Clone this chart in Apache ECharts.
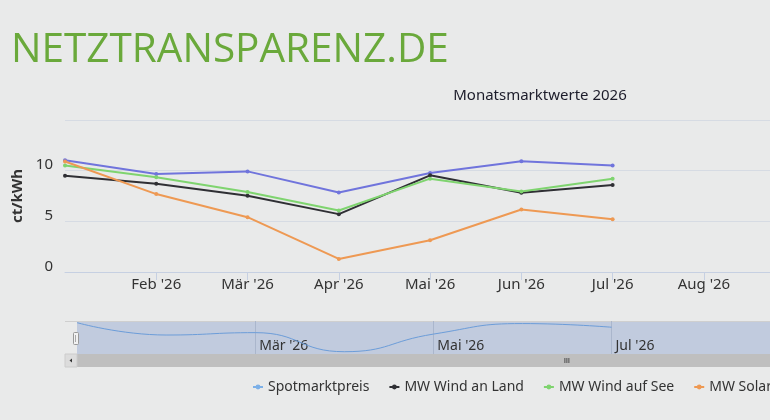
<!DOCTYPE html>
<html>
<head>
<meta charset="utf-8">
<title>Monatsmarktwerte 2026</title>
<script src="https://cdn.jsdelivr.net/npm/echarts@6/dist/echarts.min.js"></script>
<style>
	html, body { margin: 0; padding: 0; overflow: hidden; background: #e9eaea; }
	#chart { width: 1080px; height: 420px; }
</style>
</head>
<body>
<div id="chart"></div>
<script>
var months = ["Jan '26", "Feb '26", "Mär '26", "Apr '26", "Mai '26", "Jun '26", "Jul '26", "Aug '26", "Sep '26", "Okt '26", "Nov '26", "Dez '26"];
var seriesNames = ['Spotmarktpreis', 'MW Wind an Land', 'MW Wind auf See', 'MW Solar'];
var spotmarktpreis = [11.02, 9.67, 9.93, 7.85, 9.77, 10.92, 10.52];
var windLand = [9.50, 8.71, 7.52, 5.71, 9.54, 7.82, 8.58];
var windSee = [10.52, 9.34, 7.89, 6.07, 9.21, 7.95, 9.21];
var solar = [10.90, 7.69, 5.41, 1.29, 3.14, 6.17, 5.21];
var yTicks = [0, 5, 10, 15];

var font = '"Noto Sans", sans-serif';
var colors = ['#7074dc', '#2f2f34', '#7fd46f', '#ee9953'];

var chart = echarts.init(document.getElementById('chart'));

function lineSeries(i, data) {
	return {
		name: seriesNames[i],
		type: 'line',
		data: data,
		xAxisIndex: 0,
		yAxisIndex: 0,
		symbol: 'circle',
		symbolSize: 4,
		lineStyle: { width: 2, color: colors[i] },
		itemStyle: { color: colors[i] }
	};
}

var option = {
	animation: false,
	backgroundColor: '#e9eaea',
	title: [{
		text: 'NETZTRANSPARENZ.DE',
		left: 6,
		top: 25,
		textStyle: { color: '#6aa93b', fontSize: 40.5, fontWeight: 'normal', fontFamily: '"Open Sans", sans-serif' }
	}, {
		text: 'Monatsmarktwerte 2026',
		left: 'center',
		top: 83,
		textStyle: { color: '#1c1c2a', fontSize: 15, fontWeight: 'normal', fontFamily: font }
	}],
	legend: {
		left: 247,
		top: 375,
		itemWidth: 10,
		itemHeight: 6,
		itemGap: 19,
		textStyle: { color: '#333', fontSize: 14, fontFamily: font },
		data: [
			{ name: seriesNames[0], itemStyle: { color: '#7cb0e8' }, lineStyle: { color: '#7cb0e8' } },
			{ name: seriesNames[1] },
			{ name: seriesNames[2] },
			{ name: seriesNames[3] }
		]
	},
	grid: [
		{ left: 65, right: 11, top: 120, height: 152, outerBoundsMode: 'none' },
		// navigator
		{ left: 77, right: 23, top: 321, height: 33, outerBoundsMode: 'none', show: true, backgroundColor: 'rgba(102,133,194,0.3)', borderWidth: 0 }
	],
	xAxis: [{
		type: 'category',
		gridIndex: 0,
		data: months,
		boundaryGap: false,
		axisLine: { lineStyle: { color: '#c6d0e2' } },
		axisTick: { length: 8, interval: function (i) { return i > 0; }, lineStyle: { color: '#c6d0e2' } },
		axisLabel: {
			interval: function (i) { return i > 0; },
			margin: 5,
			color: '#333',
			fontSize: 15,
			fontFamily: font
		},
		splitLine: { show: false }
	}, {
		type: 'category',
		gridIndex: 1,
		data: months,
		boundaryGap: false,
		axisLine: { show: false },
		axisTick: { show: false },
		axisLabel: {
			inside: true,
			interval: function (i) { return i > 0 && i % 2 === 0; },
			align: 'left',
			verticalAlign: 'bottom',
			padding: [0, 0, 0, 4],
			margin: 1,
			color: '#333',
			fontSize: 14,
			fontFamily: font
		},
		splitLine: {
			show: true,
			interval: function (i) { return i > 0 && i % 2 === 0; },
			lineStyle: { color: '#aab6cc', width: 1 }
		}
	}],
	yAxis: [{
		type: 'value',
		gridIndex: 0,
		min: yTicks[0],
		max: yTicks[yTicks.length - 1],
		interval: 5,
		name: 'ct/kWh',
		nameLocation: 'middle',
		nameGap: 40,
		nameTextStyle: { color: '#333', fontSize: 15, fontWeight: 'bold', fontFamily: font },
		axisLine: { show: false },
		axisTick: { show: false },
		axisLabel: {
			showMaxLabel: false,
			verticalAlign: 'bottom',
			margin: 12,
			padding: [0, 0, -2, 0],
			color: '#333',
			fontSize: 15,
			fontFamily: font
		},
		splitLine: { lineStyle: { color: '#d6dbe3' } }
	}, {
		type: 'value',
		gridIndex: 1,
		min: 7.6,
		max: 11.2,
		show: false,
		splitLine: { show: false }
	}],
	series: [
		lineSeries(0, spotmarktpreis),
		lineSeries(1, windLand),
		lineSeries(2, windSee),
		lineSeries(3, solar),
		{
			name: 'navigator',
			type: 'line',
			xAxisIndex: 1,
			yAxisIndex: 1,
			data: spotmarktpreis,
			smooth: 0.5,
			symbol: 'none',
			silent: true,
			lineStyle: { width: 1, color: '#6c9dd9' }
		}
	],
	// scrollbar + handle decoration of the navigator
	graphic: [
		{ type: 'line', shape: { x1: 65, y1: 321.5, x2: 1069, y2: 321.5 }, style: { stroke: '#cfcfcf', lineWidth: 1 } },
		{ type: 'rect', shape: { x: 65, y: 354, width: 1004, height: 13 }, style: { fill: '#bfbfbf' } },
		{ type: 'rect', shape: { x: 65, y: 354, width: 12, height: 13 }, style: { fill: '#dcdcdc', stroke: '#cccccc' } },
		{ type: 'polygon', shape: { points: [[69.5, 360.5], [72, 358.5], [72, 362.5]] }, style: { fill: '#333' } },
		{ type: 'rect', shape: { x: 564.5, y: 358, width: 0.8, height: 5 }, style: { fill: '#333' } },
		{ type: 'rect', shape: { x: 566.5, y: 358, width: 0.8, height: 5 }, style: { fill: '#333' } },
		{ type: 'rect', shape: { x: 568.5, y: 358, width: 0.8, height: 5 }, style: { fill: '#333' } },
		{ type: 'rect', shape: { x: 73.5, y: 332.5, width: 5, height: 12, r: 1 }, style: { fill: '#f2f2f2', stroke: '#999', lineWidth: 1 } },
		{ type: 'line', shape: { x1: 75.5, y1: 335, x2: 75.5, y2: 342 }, style: { stroke: '#aaa', lineWidth: 1 } }
	]
};

chart.setOption(option);
</script>
</body>
</html>
